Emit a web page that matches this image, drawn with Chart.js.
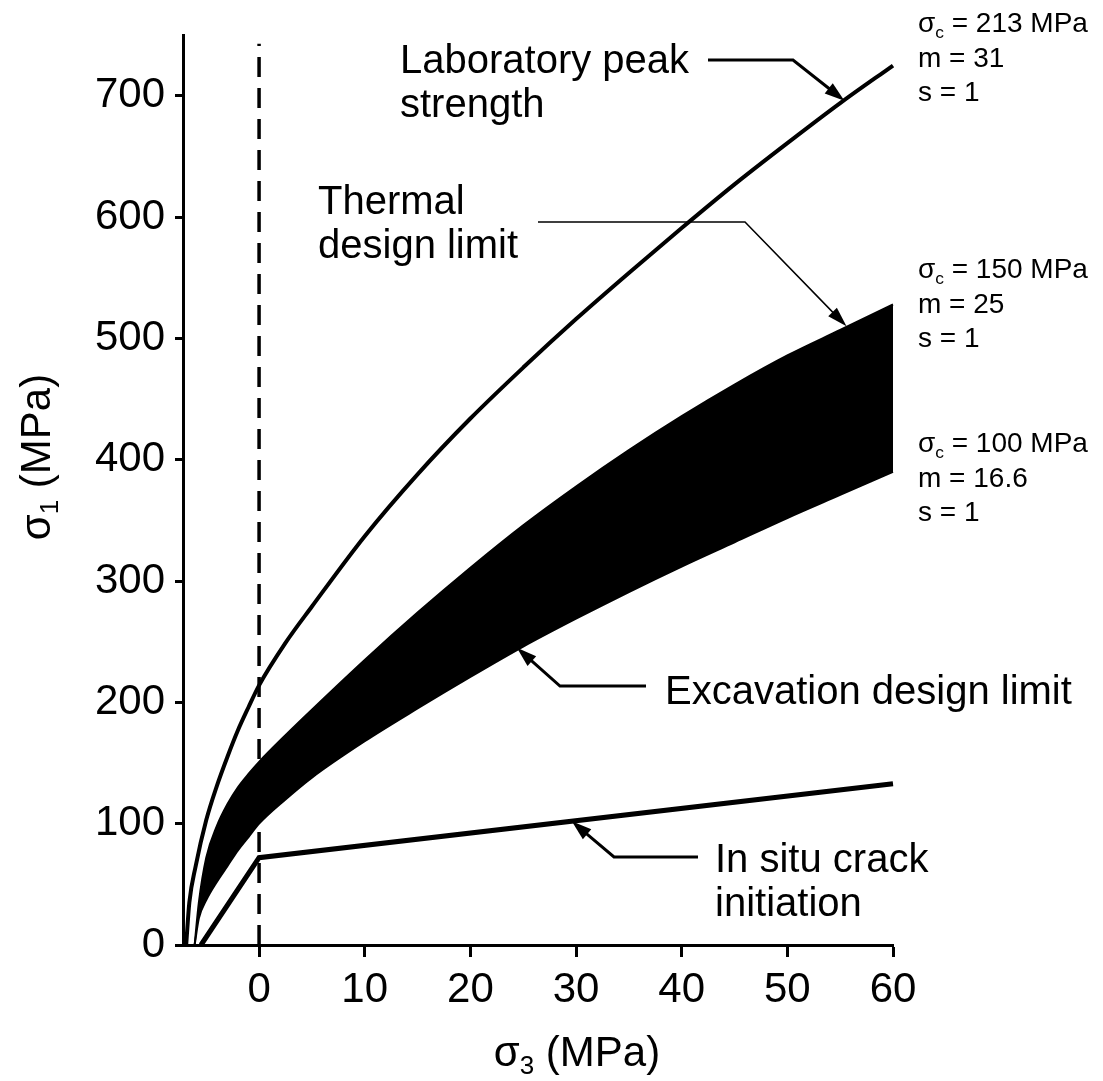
<!DOCTYPE html>
<html>
<head>
<meta charset="utf-8">
<title>Strength envelopes</title>
<script src="https://cdn.jsdelivr.net/npm/chart.js@4.4.0/dist/chart.umd.min.js"></script>
<style>
  html, body { margin: 0; padding: 0; background: #ffffff; }
  #wrap { width: 1103px; height: 1081px; }
</style>
</head>
<body>
<div id="wrap"><canvas id="chart" width="1103" height="1081"></canvas></div>
<script>
// Confining stress sigma3 (MPa) and major principal stress sigma1 (MPa)

// Laboratory peak strength envelope
const labX = [-6.9, -6.6, -6, -5, -4, -3, -2, -1, 0, 2.5, 5, 10, 15, 20, 25, 30, 35, 40, 45, 50, 55, 60];
const labY = [0, 35, 65, 103, 131, 155, 177, 196, 214, 249, 279, 337, 388, 434, 476, 516, 554, 591, 627, 661, 694, 725];

// Excavation / thermal design limit band (upper and lower bounds)
const bandX     = [-6.1, -5.7, -5, -4, -3, -2, -1, 0, 2.5, 5, 10, 15, 20, 25, 30, 35, 40, 45, 50, 55, 60];
const bandUpper = [0, 35, 72, 98, 116, 130, 141, 151, 173, 194, 235, 274, 311, 346, 378, 408, 436, 462, 486, 507, 528];
const bandLower = [0, 22, 37, 52, 65, 78, 89, 100, 120, 138, 168, 195, 221, 246, 269, 291, 312, 332, 352, 371, 390];

// In situ crack initiation
const crackX = [-5.5, 0, 60];
const crackY = [0, 72, 133];

// sigma3 = 0 reference line
const zeroLineX = [0, 0];
const zeroLineY = [0, 743];

// Axis ticks
const xTicks = [0, 10, 20, 30, 40, 50, 60];
const yTicks = [0, 100, 200, 300, 400, 500, 600, 700];

// Criterion parameters printed beside the envelopes
const paramBlocks = [
  { sc: '213', m: '31',   s: '1' },
  { sc: '150', m: '25',   s: '1' },
  { sc: '100', m: '16.6', s: '1' }
];

const FONT = '"Liberation Sans", Arial, Helvetica, sans-serif';

const pts = (xs, ys) => xs.map((v, i) => ({ x: v, y: ys[i] }));

function drawRich(ctx, x, y, parts, size, align) {
  let w = 0;
  const sized = parts.map(p => {
    const s = p.sub ? size * 0.62 : size;
    ctx.font = s + 'px ' + FONT;
    const pw = ctx.measureText(p.t).width;
    w += pw;
    return { ...p, s, pw };
  });
  let cx = align === 'center' ? x - w / 2 : x;
  ctx.textAlign = 'left';
  ctx.textBaseline = 'alphabetic';
  sized.forEach(p => {
    ctx.font = p.s + 'px ' + FONT;
    ctx.fillText(p.t, cx, p.sub ? y + size * 0.2 : y);
    cx += p.pw;
  });
}

function drawLeader(ctx, path, width, headLen, headWidth) {
  const n = path.length;
  const [tx, ty] = path[n - 1];
  const [px, py] = path[n - 2];
  const ang = Math.atan2(ty - py, tx - px);
  ctx.save();
  ctx.strokeStyle = '#000';
  ctx.fillStyle = '#000';
  ctx.lineWidth = width;
  ctx.lineJoin = 'miter';
  ctx.beginPath();
  ctx.moveTo(path[0][0], path[0][1]);
  for (let i = 1; i < n - 1; i++) ctx.lineTo(path[i][0], path[i][1]);
  ctx.lineTo(tx - Math.cos(ang) * headLen * 0.8, ty - Math.sin(ang) * headLen * 0.8);
  ctx.stroke();
  ctx.beginPath();
  ctx.moveTo(tx, ty);
  ctx.lineTo(tx - Math.cos(ang) * headLen + Math.sin(ang) * headWidth / 2,
             ty - Math.sin(ang) * headLen - Math.cos(ang) * headWidth / 2);
  ctx.lineTo(tx - Math.cos(ang) * headLen - Math.sin(ang) * headWidth / 2,
             ty - Math.sin(ang) * headLen + Math.cos(ang) * headWidth / 2);
  ctx.closePath();
  ctx.fill();
  ctx.restore();
}

const notesPlugin = {
  id: 'figureNotes',
  afterDraw(chart) {
    const { ctx, scales: { x, y } } = chart;
    const P = (vx, vy) => [x.getPixelForValue(vx), y.getPixelForValue(vy)];
    ctx.save();
    ctx.fillStyle = '#000';

    // Axis titles
    drawRich(ctx, 577, 1066, [{ t: 'σ' }, { t: '3', sub: true }, { t: ' (MPa)' }], 42, 'center');
    ctx.save();
    ctx.translate(50, 457);
    ctx.rotate(-Math.PI / 2);
    drawRich(ctx, 0, 0, [{ t: 'σ' }, { t: '1', sub: true }, { t: ' (MPa)' }], 42, 'center');
    ctx.restore();

    // Curve labels
    ctx.font = '40px ' + FONT;
    ctx.textAlign = 'left';
    ctx.textBaseline = 'alphabetic';
    ctx.fillText('Laboratory peak', 400, 73);
    ctx.fillText('strength', 400, 117);
    ctx.fillText('Thermal', 318, 214);
    ctx.fillText('design limit', 318, 258);
    ctx.fillText('Excavation design limit', 665, 704);
    ctx.fillText('In situ crack', 715, 872);
    ctx.fillText('initiation', 715, 916);

    // Leaders with arrowheads pointing onto the curves
    drawLeader(ctx, [[708, 60], [793, 60], P(55.4, 696)], 3, 20, 13);
    drawLeader(ctx, [[538, 222], [745, 222], P(55.6, 510)], 1.5, 20, 12);
    drawLeader(ctx, [[646, 686], [560, 686], P(24.4, 245)], 3, 20, 13);
    drawLeader(ctx, [[698, 857], [614, 857], P(29.6, 102)], 3, 20, 13);

    // Criterion parameters
    const tops = [32, 278, 452];
    paramBlocks.forEach((b, i) => {
      const yb = tops[i];
      drawRich(ctx, 918, yb, [{ t: 'σ' }, { t: 'c', sub: true }, { t: ' = ' + b.sc + ' MPa' }], 28, 'left');
      drawRich(ctx, 918, yb + 35, [{ t: 'm = ' + b.m }], 28, 'left');
      drawRich(ctx, 918, yb + 69, [{ t: 's = ' + b.s }], 28, 'left');
    });
    ctx.restore();
  }
};

const tickFont = { family: FONT, size: 42 };

new Chart(document.getElementById('chart'), {
  type: 'scatter',
  data: {
    datasets: [
      {
        label: 'Upper bound',
        data: pts(bandX, bandUpper),
        showLine: true,
        fill: '+1',
        backgroundColor: '#000',
        borderColor: '#000',
        borderWidth: 2,
        pointRadius: 0,
        cubicInterpolationMode: 'monotone',
        clip: 8
      },
      {
        label: 'Lower bound',
        data: pts(bandX, bandLower),
        showLine: true,
        fill: false,
        borderColor: '#000',
        borderWidth: 2,
        pointRadius: 0,
        cubicInterpolationMode: 'monotone',
        clip: 8
      },
      {
        label: 'Laboratory peak strength',
        data: pts(labX, labY),
        showLine: true,
        fill: false,
        borderColor: '#000',
        borderWidth: 4,
        pointRadius: 0,
        cubicInterpolationMode: 'monotone',
        clip: 8
      },
      {
        label: 'In situ crack initiation',
        data: pts(crackX, crackY),
        showLine: true,
        fill: false,
        borderColor: '#000',
        borderWidth: 5,
        pointRadius: 0,
        tension: 0,
        clip: 8
      },
      {
        label: 'sigma3 = 0',
        data: pts(zeroLineX, zeroLineY),
        showLine: true,
        fill: false,
        borderColor: '#000',
        borderWidth: 3.5,
        borderDash: [20, 11],
        pointRadius: 0,
        clip: 20
      }
    ]
  },
  options: {
    responsive: false,
    animation: false,
    events: [],
    layout: { padding: { left: 0, right: 210, top: 29, bottom: 0 } },
    plugins: {
      legend: { display: false },
      tooltip: { enabled: false },
      title: { display: false }
    },
    scales: {
      x: {
        type: 'linear',
        min: -7.2,
        max: 60,
        afterBuildTicks: s => { s.ticks = xTicks.map(v => ({ value: v })); },
        afterFit: s => { s.height = 136; },
        grid: {
          drawOnChartArea: false,
          drawTicks: true,
          tickLength: 12,
          tickWidth: 3,
          tickColor: '#000'
        },
        border: { display: true, color: '#000', width: 3 },
        ticks: { color: '#000', font: tickFont, padding: 8, maxRotation: 0, autoSkip: false }
      },
      y: {
        type: 'linear',
        min: 0,
        max: 750,
        afterBuildTicks: s => { s.ticks = yTicks.map(v => ({ value: v })); },
        afterFit: s => { s.width = 183; },
        grid: {
          drawOnChartArea: false,
          drawTicks: true,
          tickLength: 8,
          tickWidth: 3,
          tickColor: '#000'
        },
        border: { display: true, color: '#000', width: 3 },
        ticks: { color: '#000', font: tickFont, padding: 10, autoSkip: false }
      }
    }
  },
  plugins: [notesPlugin]
});
</script>
</body>
</html>
